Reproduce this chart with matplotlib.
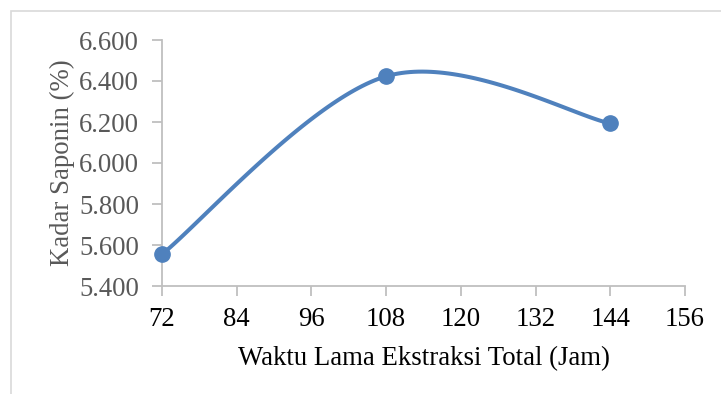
import numpy as np
import matplotlib
matplotlib.use("Agg")
import matplotlib.pyplot as plt
from matplotlib.patches import Rectangle
from matplotlib.ticker import FormatStrFormatter

# Data
waktu = [72, 108, 144]
kadar = [5.555, 6.423, 6.193]
x_ticks = [72, 84, 96, 108, 120, 132, 144, 156]
y_ticks = [5.4, 5.6, 5.8, 6.0, 6.2, 6.4, 6.6]
x_label = "Waktu Lama Ekstraksi Total (Jam)"
y_label = "Kadar Saponin (%)"

blue = "#4F81BD"
gray_axis = "#BFBFBF"
gray_text = "#595959"

plt.rcParams['font.family'] = ['Liberation Serif', 'DejaVu Serif']
FS = 19.3

fig = plt.figure(figsize=(7.21, 3.94), dpi=100)
ax = fig.add_axes([162/721, 1-286/394, (685-162)/721, (286-40)/394])

# Outer chart border (extends beyond right/bottom)
fig.patches.append(Rectangle((10.5/721, -0.2), 1.2, 1-10.5/394+0.2,
                             transform=fig.transFigure, fill=False,
                             edgecolor="#D9D9D9", linewidth=1.2))

# Excel-like smoothed line (Catmull-Rom Bezier)
def smooth(xs, ys, n=60):
    P = np.column_stack([xs, ys]).astype(float)
    Pext = np.vstack([P[0], P, P[-1]])
    out = []
    for i in range(len(P) - 1):
        p0, p1, p2, p3 = Pext[i], Pext[i+1], Pext[i+2], Pext[i+3]
        c1 = p1 + (p2 - p0) / 6.0
        c2 = p2 - (p3 - p1) / 6.0
        t = np.linspace(0, 1, n)[:, None]
        seg = ((1-t)**3)*p1 + 3*((1-t)**2)*t*c1 + 3*(1-t)*(t**2)*c2 + (t**3)*p2
        out.append(seg if i == 0 else seg[1:])
    s = np.vstack(out)
    return s[:, 0], s[:, 1]

sx, sy = smooth(waktu, kadar)
ax.plot(sx, sy, color=blue, linewidth=2.9, solid_capstyle='round', zorder=3, clip_on=False)
ax.plot(waktu, kadar, 'o', color=blue, markersize=11, zorder=4, clip_on=False)

ax.set_xlim(72, 156)
ax.set_ylim(5.4, 6.6)
ax.set_xticks(x_ticks)
ax.set_yticks(y_ticks)
ax.yaxis.set_major_formatter(FormatStrFormatter('%.3f'))

for s in ['top', 'right']:
    ax.spines[s].set_visible(False)
for s in ['left', 'bottom']:
    ax.spines[s].set_color(gray_axis)
    ax.spines[s].set_linewidth(1.3)

ax.tick_params(axis='both', direction='out', length=7, width=1.3, color=gray_axis)
ax.tick_params(axis='y', labelsize=FS, labelcolor=gray_text, pad=9.5)
ax.tick_params(axis='x', labelsize=FS, labelcolor='black', pad=8)

ax.set_xlabel(x_label, fontsize=FS, color='black', labelpad=10)
ax.set_ylabel(y_label, fontsize=FS, color=gray_text, labelpad=3)

fig.savefig("out.png", dpi=100)
